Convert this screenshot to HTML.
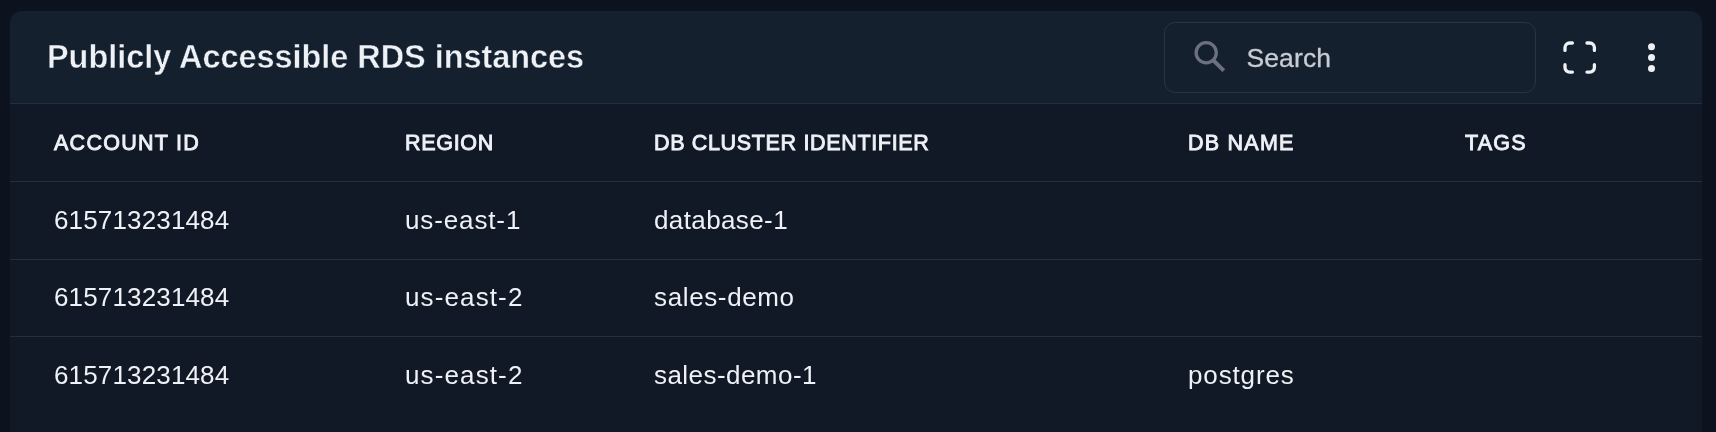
<!DOCTYPE html>
<html>
<head>
<meta charset="utf-8">
<style>
html,body{margin:0;padding:0;}
body{will-change:transform;width:1716px;height:432px;overflow:hidden;background:#0d131e;font-family:"Liberation Sans",sans-serif;position:relative;}
.card{position:absolute;left:10px;top:11px;width:1692px;height:460px;border-radius:12px;background:#121926;overflow:hidden;}
.hdr{position:absolute;left:0;top:0;width:1692px;height:92px;background:#15202f;border-bottom:1px solid #262f3b;}
.title{position:absolute;left:37px;top:0;font-weight:bold;font-size:32.4px;color:#eef1f5;-webkit-text-stroke:0.45px #15202f;line-height:92px;white-space:nowrap;}
.search{position:absolute;left:1154px;top:11px;width:370px;height:69px;border:1px solid #2a3342;border-radius:11px;}
.stext{position:absolute;left:81.5px;top:0.5px;letter-spacing:0.1px;line-height:68px;font-size:26.5px;color:#c8ccd3;-webkit-text-stroke:0.3px #c8ccd3;}
.sicon{position:absolute;left:0;top:0;}
.row{position:absolute;left:0;width:1692px;height:77px;border-bottom:1px solid #262e3a;}
.cell{position:absolute;top:0;line-height:77px;white-space:nowrap;}
.th{margin-top:1px;font-size:21.5px;font-weight:normal;-webkit-text-stroke:0.9px #eef1f5;color:#eef1f5;letter-spacing:0.2px;}
.td{font-size:26px;color:#eef1f5;}
</style>
</head>
<body>
<div class="card">
  <div class="hdr">
    <div class="title m">Publicly Accessible RDS instances</div>
    <div class="search">
      <svg class="sicon" width="80" height="68" viewBox="0 0 80 68">
        <circle cx="41.2" cy="29.8" r="10.1" fill="none" stroke="#6c717d" stroke-width="3.3"/>
        <line x1="48.5" y1="37.5" x2="58.8" y2="47.6" stroke="#6c717d" stroke-width="3.9"/>
      </svg>
      <div class="stext m">Search</div>
    </div>
    
  </div>
  <div class="row" style="top:93px">
    <div class="cell th m" style="left:44px;letter-spacing:1.27px">ACCOUNT ID</div>
    <div class="cell th m" style="left:395px;letter-spacing:0.7px">REGION</div>
    <div class="cell th m" style="left:644px;letter-spacing:0.66px">DB CLUSTER IDENTIFIER</div>
    <div class="cell th m" style="left:1178px;letter-spacing:1.25px">DB NAME</div>
    <div class="cell th m" style="left:1455px;letter-spacing:1.23px">TAGS</div>
  </div>
  <div class="row" style="top:171px">
    <div class="cell td m" style="left:44px;letter-spacing:0.15px">615713231484</div>
    <div class="cell td m" style="left:395px;letter-spacing:0.87px">us-east-1</div>
    <div class="cell td m" style="left:644px;letter-spacing:0.39px">database-1</div>
  </div>
  <div class="row" style="top:249px;height:76px">
    <div class="cell td m" style="margin-top:-1px;left:44px;letter-spacing:0.15px">615713231484</div>
    <div class="cell td m" style="margin-top:-1px;left:395px;letter-spacing:1.12px">us-east-2</div>
    <div class="cell td m" style="margin-top:-1px;left:644px;letter-spacing:0.63px">sales-demo</div>
  </div>
  <div class="row" style="top:326px;border-bottom:none">
    <div class="cell td m" style="left:44px;letter-spacing:0.15px">615713231484</div>
    <div class="cell td m" style="left:395px;letter-spacing:1.12px">us-east-2</div>
    <div class="cell td m" style="left:644px;letter-spacing:0.45px">sales-demo-1</div>
    <div class="cell td m" style="left:1178px;letter-spacing:0.86px">postgres</div>
  </div>
</div>
<svg style="position:absolute;left:0;top:0" width="1716" height="110" viewBox="0 0 1716 110">
  <path d="M1572.4 43H1569.6A4.6 4.6 0 0 0 1565 47.6V50.4M1587 43H1589.8A4.6 4.6 0 0 1 1594.4 47.6V50.4M1594.4 64.7V67.5A4.6 4.6 0 0 1 1589.8 72.1H1587M1565 64.7V67.5A4.6 4.6 0 0 0 1569.6 72.1H1572.4" fill="none" stroke="#eef1f5" stroke-width="3.3" stroke-linecap="round" stroke-linejoin="round"/>
  <circle cx="1651.5" cy="46.7" r="3.5" fill="#eef1f5"/>
  <circle cx="1651.5" cy="57.6" r="3.5" fill="#eef1f5"/>
  <circle cx="1651.5" cy="68.4" r="3.5" fill="#eef1f5"/>
</svg>
</body>
</html>
